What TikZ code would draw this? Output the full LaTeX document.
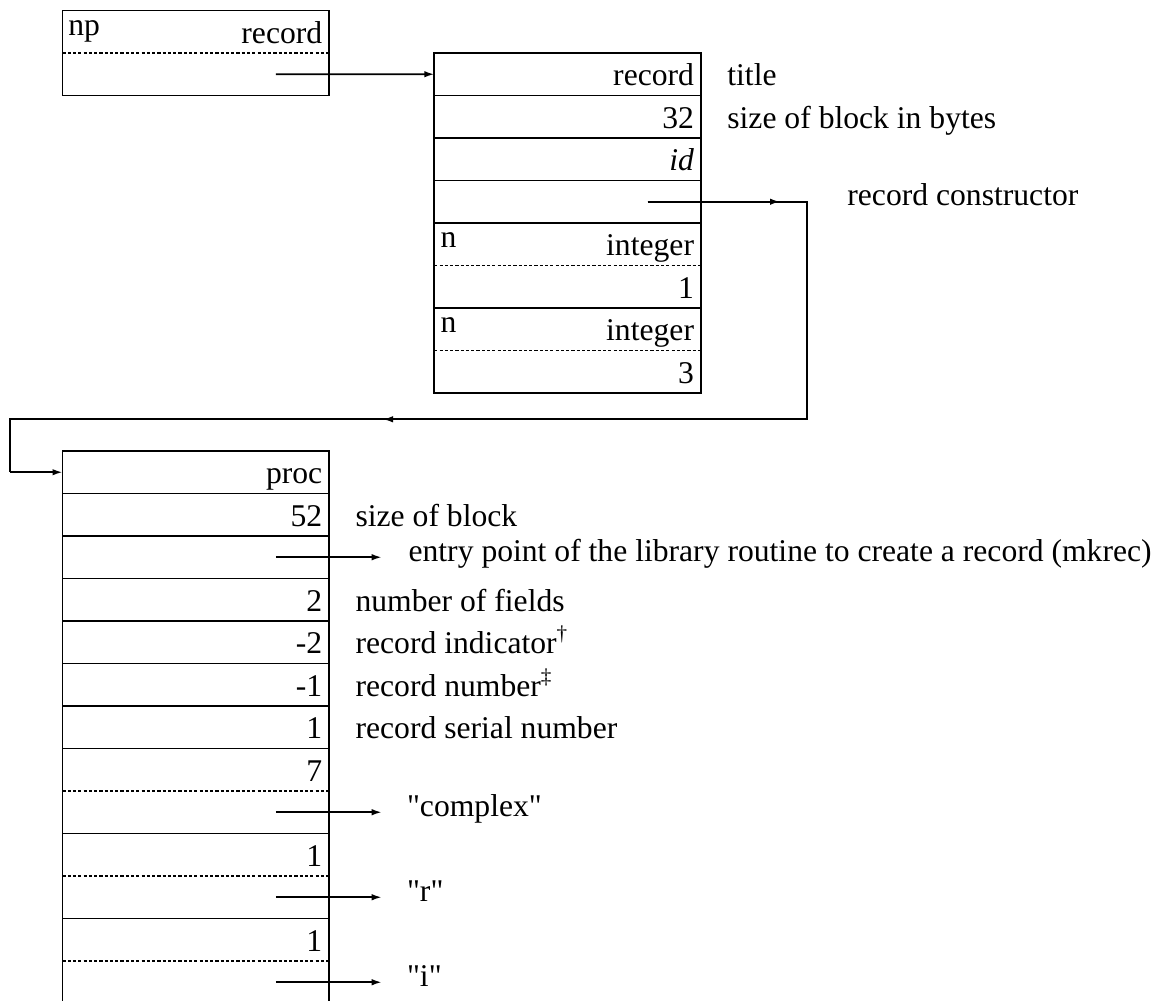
\documentclass[tikz,border=0pt]{standalone}
\usepackage{fontspec}
\setmainfont{Liberation Serif}[Ligatures=TeXOff]
\usetikzlibrary{calc,arrows.meta,positioning}

\begin{document}
\begin{tikzpicture}[x=1mm, y=1mm, >={Latex[length=1mm,width=0.65mm]}, line width=0.5pt,
  font=\fontsize{9}{11}\selectfont,
  cell/.style={rectangle, inner xsep=0.7mm, inner ysep=0pt, outer sep=0pt,
    text width=25.27mm, align=right, minimum height=4.25mm,
    text height=2.85mm, text depth=0.5mm},
  box/.style={cell, draw},
  note/.style={inner sep=0pt, anchor=base west},
  half/.style={dash pattern=on 0.9pt off 0.6pt, line width=0.35pt}]
  \useasboundingbox (0,0) rectangle (116.2,100);

  % Pointer to the record
  \node[cell, anchor=north west] (np1) at (6.25,98.95) {record};
  \node[cell, below=0pt of np1] (np2) {};
  \draw (np1.north west) rectangle (np2.south east);
  \draw[half] (np1.south west) -- (np1.south east);
  \node[note] (npname) at ([shift={(0.5mm,-2.55mm)}]np1.north west) {np};

  % Record block
  \node[box, anchor=north west] (rec1) at (43.43,94.7) {record};
  \node[box, below=0pt of rec1] (rec2) {32};
  \node[box, below=0pt of rec2] (rec3) {\textit{id}};
  \node[box, below=0pt of rec3] (rec4) {};
  \node[cell, below=0pt of rec4] (rec5) {integer};
  \node[cell, below=0pt of rec5] (rec6) {1};
  \node[cell, below=0pt of rec6] (rec7) {integer};
  \node[cell, below=0pt of rec7] (rec8) {3};
  \foreach \a/\b in {rec5/rec6, rec7/rec8} {
    \draw (\a.north west) rectangle (\b.south east);
    \draw[half] (\a.south west) -- (\a.south east);
    \node[note] at ([shift={(0.55mm,-2.5mm)}]\a.north west) {n};
  }
  \node[note] (title) at ([xshift=2.55mm]rec1.base east) {title};
  \node[note] (bytes) at ([xshift=2.55mm]rec2.base east) {size of block in bytes};
  \node[note] (cons) at ([shift={(14.55mm,-0.4mm)}]rec4.east) {record constructor};

  \draw[->] ([xshift=-5.33mm]np2.east) -- (rec1.west);

  % Proc block
  \node[box, anchor=north west] (proc1) at (6.25,54.9) {proc};
  \node[box, below=0pt of proc1] (proc2) {52};
  \node[box, below=0pt of proc2] (proc3) {};
  \node[box, below=0pt of proc3] (proc4) {2};
  \node[box, below=0pt of proc4] (proc5) {-2};
  \node[box, below=0pt of proc5] (proc6) {-1};
  \node[box, below=0pt of proc6] (proc7) {1};
  \node[cell, below=0pt of proc7] (proc8) {7};
  \node[cell, below=0pt of proc8] (proc9) {};
  \node[cell, below=0pt of proc9] (proc10) {1};
  \node[cell, below=0pt of proc10] (proc11) {};
  \node[cell, below=0pt of proc11] (proc12) {1};
  \node[cell, below=0pt of proc12] (proc13) {};
  \foreach \a/\b in {proc8/proc9, proc10/proc11, proc12/proc13} {
    \draw (\a.north west) rectangle (\b.south east);
    \draw[half] (\a.south west) -- (\a.south east);
  }

  \node[note] (blk) at ([xshift=2.55mm]proc2.base east) {size of block};
  \node[note] (entry) at ([shift={(7.85mm,-0.44mm)}]proc3.east)
    {entry point of the library routine to create a record (mkrec)};
  \node[note] (nf) at ([xshift=2.55mm]proc4.base east) {number of fields};
  \node[note] (ind) at ([xshift=2.55mm]proc5.base east) {record indicator\textsuperscript{\textdagger}};
  \node[note] (num) at ([xshift=2.55mm]proc6.base east) {record number\textsuperscript{\textdaggerdbl}};
  \node[note] (ser) at ([xshift=2.55mm]proc7.base east) {record serial number};
  \draw[->] ([xshift=-5.33mm]proc3.east) -- ($(proc3.east -| entry.west)+(-2.6,0)$);

  % Strings
  \foreach \c/\s [count=\k] in {proc9/"complex", proc11/"r", proc13/"i"} {
    \node[note] (str\k) at ([shift={(7.7mm,-0.4mm)}]\c.east) {\s};
    \draw[->] ([xshift=-5.33mm]\c.east) -- ($(\c.east -| str\k.west)+(-2.45,0)$);
  }

  % Link from constructor to proc
  \coordinate (bendA) at ([xshift=10.57mm]rec4.east);
  \coordinate (bendB) at ($(bendA |- rec8.south)+(0,-2.63)$);
  \coordinate (bendC) at (bendB -| 1,0);
  \coordinate (bendD) at (bendC |- proc1.west);
  \draw ([xshift=-5.33mm]rec4.east) -- (bendA) -- (bendB) -- (bendC) -- (bendD);
  \draw[->] ([xshift=-5.33mm]rec4.east) -- ([xshift=-2.67mm]bendA);
  \draw[->] (bendB) -- ([xshift=37.3mm]bendC);
  \draw[->] (bendD) -- (proc1.west);

\end{tikzpicture}
\end{document}
